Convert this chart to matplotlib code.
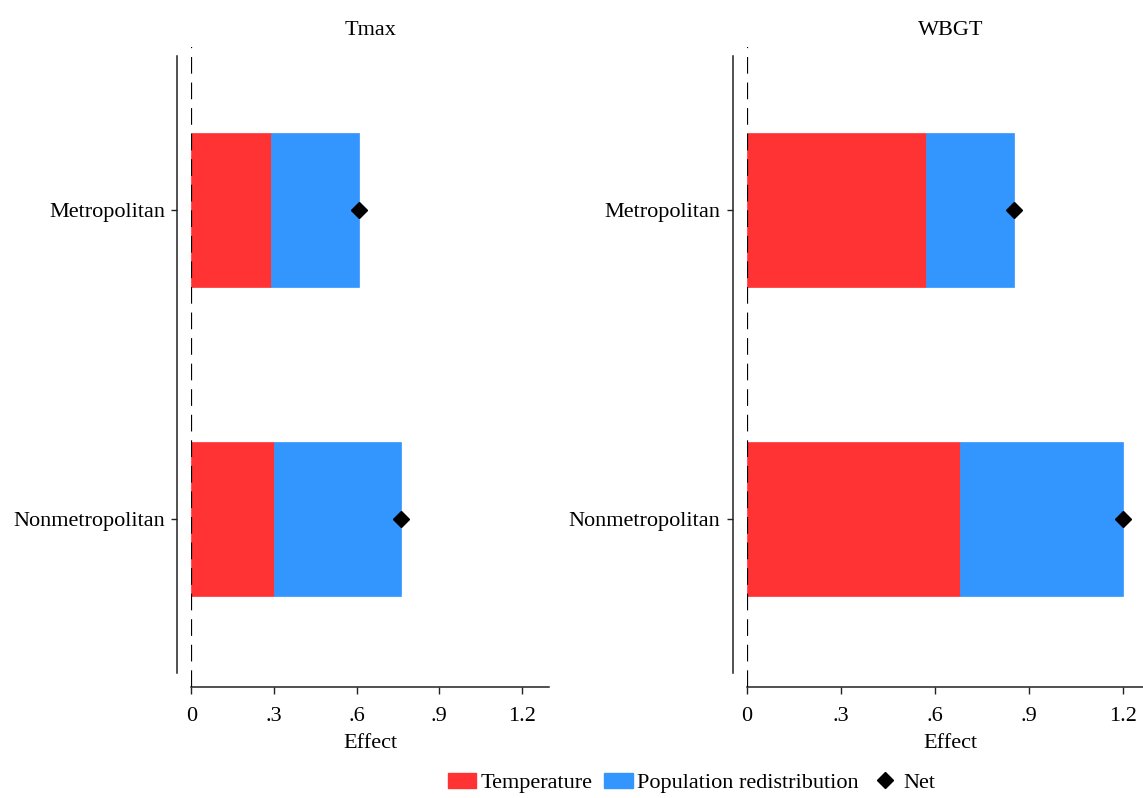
import matplotlib
matplotlib.use("Agg")
import matplotlib.pyplot as plt
from matplotlib.patches import Patch
from matplotlib.lines import Line2D

# data
regions = ["Nonmetropolitan", "Metropolitan"]
panels = ["Tmax", "WBGT"]
temperature = {"Tmax": [0.30, 0.29], "WBGT": [0.68, 0.57]}
population = {"Tmax": [0.46, 0.32], "WBGT": [0.52, 0.28]}
net = {"Tmax": [0.76, 0.61], "WBGT": [1.20, 0.85]}
xticks = [0, 0.3, 0.6, 0.9, 1.2]
xticklabels = ["0", ".3", ".6", ".9", "1.2"]

RED = "#ff3333"
BLUE = "#3396ff"

plt.rcParams["font.family"] = ["Liberation Serif", "DejaVu Serif"]
plt.rcParams["font.size"] = 16

fig = plt.figure(figsize=(11.43, 7.98), dpi=100)

# axes rectangles in figure fractions
rects = {
    "Tmax": [0.1674, 0.1391, 0.3131, 0.802],
    "WBGT": [0.6535, 0.1391, 0.3567, 0.802],
}

ypos = list(range(len(regions)))

for name in panels:
    ax = fig.add_axes(rects[name])
    temp = temperature[name]
    pop = population[name]

    ax.barh(ypos, temp, height=0.5, color=RED, edgecolor=RED, linewidth=0.5, zorder=2)
    ax.barh(ypos, pop, left=temp, height=0.5, color=BLUE, edgecolor=BLUE,
            linewidth=0.5, zorder=2)
    ax.plot(net[name], ypos, linestyle="none", marker="D", markersize=8.5,
            color="black", zorder=4)
    # reference line at zero
    ax.axvline(0, color="black", linestyle=(0, (7.5, 4)), linewidth=1.6, zorder=3)

    ax.set_xlim(0, 1.3)
    ax.set_ylim(-0.546, 1.53)
    ax.set_xticks(xticks)
    ax.set_xticklabels(xticklabels)
    ax.set_yticks(ypos)
    ax.set_yticklabels(regions)
    ax.set_xlabel("Effect", labelpad=6)
    ax.set_title(name, fontsize=16, pad=9)

    ax.spines["top"].set_visible(False)
    ax.spines["right"].set_visible(False)
    ax.spines["left"].set_position(("outward", 10))
    ax.spines["left"].set_bounds(-0.5, 1.5)
    for s in ["left", "bottom"]:
        ax.spines[s].set_linewidth(1.1)
        ax.spines[s].set_color("#222222")
    ax.tick_params(axis="y", length=4, width=1, pad=5, colors="#222222",
                   labelcolor="black")
    ax.tick_params(axis="x", length=5, width=1, pad=9.5, colors="#222222",
                   labelcolor="black")

handles = [
    Patch(facecolor=RED, edgecolor=RED, label="Temperature"),
    Patch(facecolor=BLUE, edgecolor=BLUE, label="Population redistribution"),
    Line2D([], [], linestyle="none", marker="D", markersize=8.5, color="black",
           label="Net"),
]
fig.legend(handles=handles, loc="center", bbox_to_anchor=(0.605, 0.019), ncol=3,
           frameon=False, handlelength=1.3, handleheight=0.7, handletextpad=0.2,
           columnspacing=0.5, fontsize=16)

fig.savefig("out.png", dpi=100)
